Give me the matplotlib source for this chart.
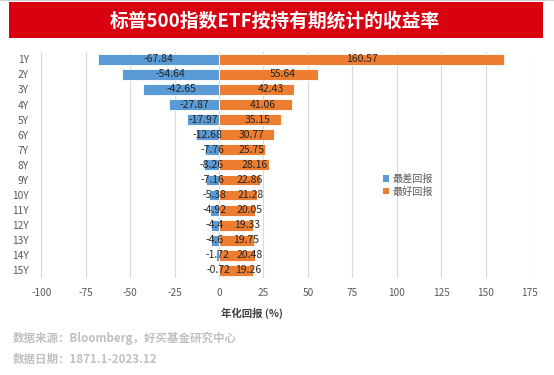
import matplotlib
matplotlib.use('Agg')
import matplotlib.pyplot as plt
from matplotlib.patches import Rectangle, Patch
import numpy as np

plt.rcParams['font.family'] = ['Noto Sans CJK SC', 'DejaVu Sans']

# holding periods and returns (%)
periods = ['1Y', '2Y', '3Y', '4Y', '5Y', '6Y', '7Y', '8Y', '9Y', '10Y',
           '11Y', '12Y', '13Y', '14Y', '15Y']
worst = [-67.84, -54.64, -42.65, -27.87, -17.97, -12.68, -7.76, -8.26,
         -7.16, -5.38, -4.92, -4.4, -4.6, -1.72, -0.72]
best = [160.57, 55.64, 42.43, 41.06, 35.15, 30.77, 25.75, 28.16,
        22.86, 21.28, 20.05, 19.33, 19.75, 20.48, 19.26]
xticks = [-100, -75, -50, -25, 0, 25, 50, 75, 100, 125, 150, 175]

# label nudges (points) for the "best" labels, as placed in the original
best_dx = [0, 10, 10, 5, 5, 4, 7, 8, 7.5, 9, 9, 8, 6.5, 9, 9]

c_worst = '#5B9BD5'
c_best = '#ED7D31'
W, H = 554, 375

fig = plt.figure(figsize=(W / 100, H / 100), dpi=100)

# top thin line and red title banner
fig.add_artist(Rectangle((0, 1 - 1.2 / H), 1, 1.2 / H, transform=fig.transFigure,
                         facecolor='#D0D0D0', edgecolor='none'))
fig.add_artist(Rectangle((8.5 / W, 1 - 37.5 / H), (543 - 8.5) / W, 35.5 / H,
                         transform=fig.transFigure, facecolor='#D9000F', edgecolor='none'))
fig.text(275 / W, 1 - 21 / H, '标普500指数ETF按持有期统计的收益率', color='white',
         fontsize=13.5, fontweight='bold', ha='center', va='center')

left, right, top, bottom = 41.3, 530, 51.7, 278
ax = fig.add_axes([left / W, 1 - bottom / H, (right - left) / W, (bottom - top) / H])

y = np.arange(len(periods))
ax.barh(y, worst, height=0.72, color=c_worst, edgecolor='white', linewidth=0.6, zorder=2)
ax.barh(y, best, height=0.72, color=c_best, edgecolor='white', linewidth=0.6, zorder=2)

for yi, w, b, dx in zip(y, worst, best, best_dx):
    ax.annotate(f'{w:g}', (w / 2, yi), ha='center', va='center', fontsize=7.5,
                color='#262626', zorder=3)
    ax.annotate(f'{b:g}', (b / 2, yi), xytext=(dx, 0), textcoords='offset points',
                ha='center', va='center', fontsize=7.5, color='#262626', zorder=3)

ax.set_xlim(-100, 175)
ax.set_ylim(len(periods) - 0.5, -0.5)
ax.set_xticks(xticks)
ax.set_xticklabels([str(t) for t in xticks])
ax.set_yticks(y)
ax.set_yticklabels(periods)
ax.tick_params(axis='both', length=0, labelsize=7.3, labelcolor='#595959')
ax.tick_params(axis='x', pad=7)
ax.tick_params(axis='y', pad=9)
ax.grid(axis='x', color='#D9D9D9', linewidth=0.8, zorder=0)
ax.set_axisbelow(True)
for s in ax.spines.values():
    s.set_visible(False)

handles = [Patch(facecolor=c_worst, label='最差回报'), Patch(facecolor=c_best, label='最好回报')]
fig.legend(handles=handles, loc='upper left', bbox_to_anchor=(378 / W, 1 - 169 / H),
           frameon=False, fontsize=7.3, handlelength=0.6, handleheight=0.6,
           handletextpad=0.3, labelspacing=0.25, borderpad=0, labelcolor='#595959')

fig.text(252 / W, 1 - 313 / H, '年化回报 (%)', ha='center', va='center',
         fontsize=7.5, fontweight='bold', color='#404040')

fig.text(13 / W, 1 - 338 / H, '数据来源：Bloomberg，好买基金研究中心', ha='left', va='center',
         fontsize=8.3, fontweight='bold', color='#C0C0C0')
fig.text(13 / W, 1 - 359 / H, '数据日期：1871.1-2023.12', ha='left', va='center',
         fontsize=8.3, fontweight='bold', color='#C0C0C0')

fig.savefig('out.png', dpi=100)
